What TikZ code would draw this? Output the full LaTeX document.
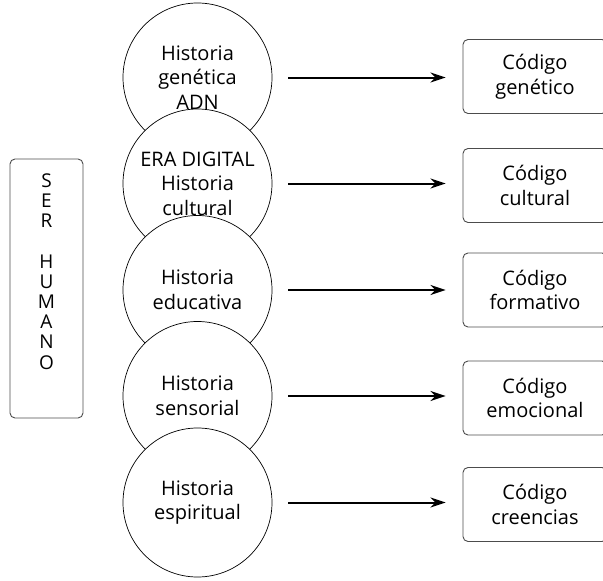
\documentclass[tikz,border=0pt]{standalone}
\usepackage{fontspec}
\setmainfont{Open Sans}
\usetikzlibrary{arrows.meta}
\begin{document}
\begin{tikzpicture}[x=1pt,y=-1pt,
  historia/.style={circle, draw=black, line width=0.7pt, fill=white,
    minimum size=149pt, inner sep=0pt, align=center,
    font=\fontsize{20}{24.5}\selectfont},
  codigo/.style={rectangle, rounded corners=5pt, draw=black!70, line width=0.9pt,
    minimum width=144pt, minimum height=74pt, inner sep=0pt, align=center,
    font=\fontsize{20}{24.5}\selectfont},
  serbox/.style={rectangle, rounded corners=5pt, draw=black!70, line width=0.9pt,
    minimum width=73pt, minimum height=259pt, inner sep=0pt, align=center,
    font=\fontsize{19}{20.2}\selectfont},
  flecha/.style={line width=2pt, -{Stealth[length=15pt,width=10pt]},
    shorten <=16pt, shorten >=17pt}
]
\useasboundingbox (0,0) rectangle (603,581);

% person box on the left (letters sit towards the top)
\node[serbox] (ser) at (46.5,288.5) {S\\E\\R\\[20.2pt]H\\U\\M\\A\\N\\O\\[14pt]\mbox{}};

% stacked history circles (each one drawn over the previous)
\node[historia] (c1) at (197.5,77.5)  {Historia\\genética\\ADN};
\node[historia] (c2) at (197.5,183.5) {ERA DIGITAL\\Historia\\cultural};
\node[historia] (c3) at (197.5,290)   {Historia\\educativa};
\node[historia] (c4) at (197.5,396)   {Historia\\sensorial};
\node[historia] (c5) at (197.5,502.5) {Historia\\espiritual};

% code boxes on the right
\node[codigo] (k1) at (535,76.5)  {Código\\genético};
\node[codigo] (k2) at (535,185.5) {Código\\cultural};
\node[codigo] (k3) at (535,290)   {Código\\formativo};
\node[codigo] (k4) at (535,398)   {Código\\emocional};
\node[codigo] (k5) at (535,504.5) {Código\\creencias};

% arrows from each history to its code
\foreach \i in {1,...,5}{
  \draw[flecha] (c\i.east) -- (c\i.east -| k\i.west);
}
\end{tikzpicture}
\end{document}
